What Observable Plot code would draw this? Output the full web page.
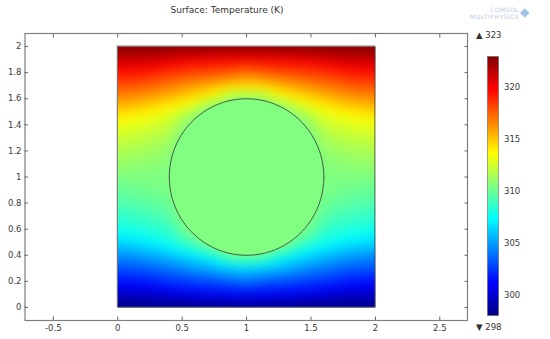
<!DOCTYPE html>
<html><head><meta charset="utf-8">
<script src="https://cdn.jsdelivr.net/npm/d3@7"></script>
<script src="https://cdn.jsdelivr.net/npm/@observablehq/plot@0.6"></script>
<style>
body{margin:0;background:#fff;font-family:"DejaVu Sans",sans-serif;}
#wrap{position:relative;width:550px;height:339px;overflow:hidden;background:#fff}
#wrap svg{position:absolute;top:0}
.lab{position:absolute;font-size:9px;color:#333;white-space:nowrap;line-height:1}
.logo{position:absolute;font-size:6px;color:#b9cbe0;letter-spacing:0.5px;line-height:1}
</style></head><body><div id="wrap"></div>
<script>
// ---- data ----
const title = "Surface: Temperature (K)";
const xs = [0, 0.2, 0.4, 0.6, 0.8, 1.0, 1.2, 1.4, 1.6, 1.8, 2.0];
const ys = [2.0, 1.9, 1.8, 1.7, 1.6, 1.5, 1.4, 1.3, 1.2, 1.1, 1.0, 0.9, 0.8, 0.7, 0.6, 0.5, 0.4, 0.3, 0.2, 0.1, 0.0];
const temps = [
  [323.0,323.0,323.0,323.0,323.0,323.0,323.0,323.0,323.0,323.0,323.0],
  [321.2,321.1,320.6,320.1,319.9,319.8,319.9,320.1,320.6,321.1,321.2],
  [319.5,319.3,318.6,318.2,317.8,317.0,317.8,318.2,318.6,319.3,319.5],
  [317.9,317.6,316.9,316.0,315.0,314.6,315.0,316.0,316.9,317.6,317.9],
  [316.3,315.9,315.0,314.0,312.6,310.5,312.6,314.0,315.0,315.9,316.3],
  [314.6,314.0,313.2,311.6,310.5,310.5,310.5,311.6,313.2,314.0,314.6],
  [313.2,312.8,312.3,310.5,310.5,310.5,310.5,310.5,312.3,312.8,313.2],
  [312.4,312.1,311.6,310.5,310.5,310.5,310.5,310.5,311.6,312.1,312.4],
  [311.7,311.4,311.0,310.5,310.5,310.5,310.5,310.5,311.0,311.4,311.7],
  [311.1,310.9,310.6,310.5,310.5,310.5,310.5,310.5,310.6,310.9,311.1],
  [310.5,310.5,310.5,310.5,310.5,310.5,310.5,310.5,310.5,310.5,310.5],
  [309.9,310.1,310.4,310.5,310.5,310.5,310.5,310.5,310.4,310.1,309.9],
  [309.3,309.6,310.0,310.5,310.5,310.5,310.5,310.5,310.0,309.6,309.3],
  [308.6,308.9,309.4,310.5,310.5,310.5,310.5,310.5,309.4,308.9,308.6],
  [307.8,308.2,308.7,310.5,310.5,310.5,310.5,310.5,308.7,308.2,307.8],
  [306.4,307.0,307.8,309.4,310.5,310.5,310.5,309.4,307.8,307.0,306.4],
  [304.7,305.1,306.0,307.0,308.4,310.5,308.4,307.0,306.0,305.1,304.7],
  [303.1,303.4,304.1,305.0,306.0,306.4,306.0,305.0,304.1,303.4,303.1],
  [301.5,301.7,302.4,302.8,303.2,304.0,303.2,302.8,302.4,301.7,301.5],
  [299.8,299.9,300.4,300.9,301.1,301.2,301.1,300.9,300.4,299.9,299.8],
  [298.0,298.0,298.0,298.0,298.0,298.0,298.0,298.0,298.0,298.0,298.0]
];
const plate = {x1: 0, x2: 2, y1: 0, y2: 2};
const inclusion = {cx: 1, cy: 1, r: 0.6, t: 310.5};
const xTicks = [-0.5, 0, 0.5, 1, 1.5, 2, 2.5];
const yTicks = [0, 0.2, 0.4, 0.6, 0.8, 1, 1.2, 1.4, 1.6, 1.8, 2];
const barTicks = [300, 305, 310, 315, 320];
const tRange = [298, 323];

// ---- build tables ----
const samples = [];
ys.forEach((y, i) => xs.forEach((x, j) => samples.push({x, y, t: temps[i][j]})));
const circlePts = d3.range(0, 361, 4).map(a => ({
  x: inclusion.cx + inclusion.r * Math.cos(a * Math.PI / 180),
  y: inclusion.cy + inclusion.r * Math.sin(a * Math.PI / 180)
}));
circlePts.forEach(p => samples.push({x: p.x, y: p.y, t: inclusion.t}));
samples.push({x: inclusion.cx, y: inclusion.cy, t: inclusion.t});

// jet-like rainbow
const colorOpts = {
  type: "linear",
  domain: [298, 301.125, 307.375, 313.625, 319.875, 323],
  range: ["#000080", "#0000ff", "#00ffff", "#ffff00", "#ff0000", "#800000"],
  interpolate: "rgb", clamp: true
};
const discColor = Plot.scale({color: colorOpts}).apply(inclusion.t);
const fmt = d => String(d);
const axStyle = {fontFamily: "DejaVu Sans", fontSize: "8.5px", color: "#3a3a3a", background: "transparent", overflow: "visible"};

const main = Plot.plot({
  width: 550, height: 339,
  marginLeft: 24.5, marginRight: 83, marginTop: 33, marginBottom: 19,
  style: axStyle,
  x: {domain: [-0.72, 2.715], axis: null},
  y: {domain: [-0.1, 2.1], axis: null},
  color: colorOpts,
  marks: [
    Plot.raster(samples, {x: "x", y: "y", fill: "t", interpolate: "barycentric", blur: 5,
      x1: plate.x1, x2: plate.x2, y1: plate.y1, y2: plate.y2, pixelSize: 1}),
    Plot.line(circlePts, {x: "x", y: "y", fill: discColor, stroke: "#3d4a3d", strokeWidth: 0.9}),
    Plot.rect([plate], {x1: "x1", x2: "x2", y1: "y1", y2: "y2", fill: "none", stroke: "#444", strokeWidth: 0.8}),
    Plot.frame({stroke: "#808080", strokeWidth: 1.2}),
    Plot.axisX({anchor: "bottom", ticks: xTicks, tickSize: 0, tickPadding: 4.5, tickFormat: fmt}),
    Plot.axisX({anchor: "bottom", ticks: xTicks, tickSize: 3.5, dy: -3.5, tickFormat: () => "", stroke: "#666"}),
    Plot.axisX({anchor: "top", ticks: xTicks, tickSize: 3.5, dy: 3.5, tickFormat: () => "", stroke: "#666"}),
    Plot.axisY({anchor: "left", ticks: yTicks, tickSize: 0, tickPadding: 3.5, tickFormat: fmt}),
    Plot.axisY({anchor: "left", ticks: yTicks, tickSize: 3.5, dx: 3.5, tickFormat: () => "", stroke: "#666"}),
    Plot.axisY({anchor: "right", ticks: yTicks, tickSize: 3.5, dx: -3.5, tickFormat: () => "", stroke: "#666"})
  ]
});

const bar = Plot.plot({
  width: 73, height: 339,
  marginLeft: 10, marginRight: 52, marginTop: 56, marginBottom: 24,
  style: axStyle,
  x: {domain: [0, 1], axis: null},
  y: {domain: tRange, axis: null},
  color: colorOpts,
  marks: [
    Plot.raster({fill: (x, y) => y, x1: 0, x2: 1, y1: tRange[0], y2: tRange[1], pixelSize: 1}),
    Plot.frame({stroke: "#555", strokeWidth: 0.5}),
    Plot.axisY({anchor: "right", ticks: barTicks, tickSize: 0, tickPadding: 5.5, tickFormat: fmt})
  ]
});

const wrap = document.getElementById("wrap");
wrap.appendChild(main);
bar.style.left = "477px";
wrap.appendChild(bar);

function addLabel(text, left, top, cls = "lab", extra = {}) {
  const d = document.createElement("div");
  d.className = cls;
  d.textContent = text;
  d.style.left = left + "px";
  d.style.top = top + "px";
  Object.assign(d.style, extra);
  wrap.appendChild(d);
  return d;
}
addLabel(title, 0, 6, "lab", {width: "454px", textAlign: "center", fontSize: "9px"});
addLabel("▲ " + tRange[1], 476, 30.5, "lab", {fontSize: "8.5px"});
addLabel("▼ " + tRange[0], 476, 322.5, "lab", {fontSize: "8.5px"});
addLabel("COMSOL", 490, 7, "logo");
addLabel("MULTIPHYSICS", 470, 14, "logo");
addLabel("◆", 520, 6, "logo", {fontSize: "12px", color: "#9fc3e6"});
</script></body></html>
